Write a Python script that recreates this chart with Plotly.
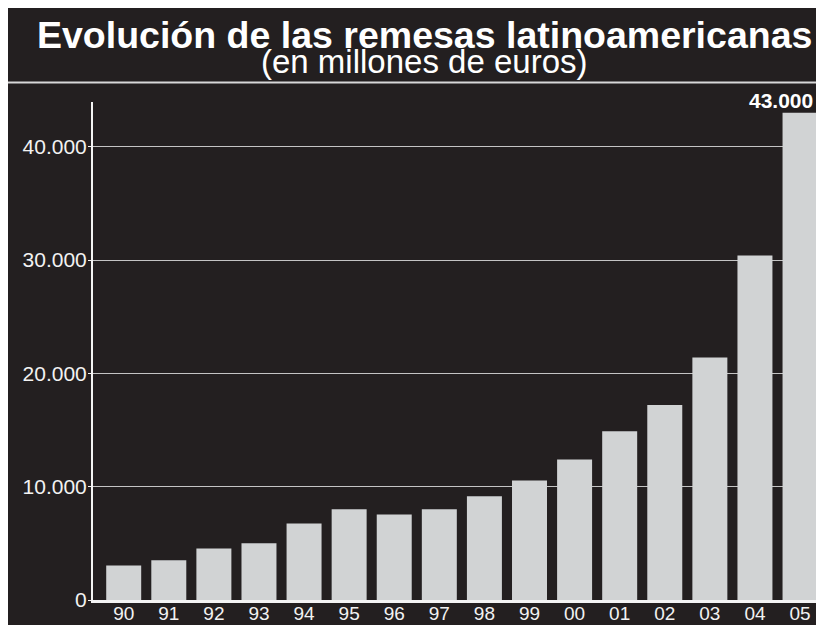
import plotly.graph_objects as go

# ---- data ----
years = ["90", "91", "92", "93", "94", "95", "96", "97", "98", "99", "00", "01", "02", "03", "04", "05"]
remesas = [3050, 3500, 4550, 5000, 6750, 8000, 7550, 8000, 9150, 10550, 12400, 14900, 17200, 21400, 30400, 43000]
y_tick_vals = [0, 10000, 20000, 30000, 40000]
y_tick_text = ["0", "10.000", "20.000", "30.000", "40.000"]
title_text = "Evolución de las remesas latinoamericanas"
subtitle_text = "(en millones de euros)"
highlight_label = "43.000"

# ---- geometry (pixels, figure coords; the page adds an 8px body margin) ----
W, H = 808, 617
ML, MR, MT, MB = 85, 0, 94, 25
PW, PH = W - ML - MR, H - MT - MB

def px_x(p):
    return (p - ML) / PW

def px_y(p):
    return (H - MB - p) / PH

DARK = "#231f20"
BAR = "#d1d3d4"
TXT = "#f2f2f2"

fig = go.Figure()
fig.add_trace(go.Bar(
    x=years, y=remesas,
    marker=dict(color=BAR, line=dict(width=0)),
    hoverinfo="x+y",
))

fig.update_layout(
    width=W, height=H,
    autosize=False,
    margin=dict(l=ML, r=MR, t=MT, b=MB, pad=0, autoexpand=False),
    paper_bgcolor=DARK,
    plot_bgcolor=DARK,
    bargap=0.224,
    showlegend=False,
    font=dict(family="Liberation Sans, Arial, sans-serif", color=TXT),
    xaxis=dict(
        type="category",
        range=[-0.681, 15.354],
        automargin=False,
        showgrid=False,
        showline=True, linecolor="#f4f4f4", linewidth=3,
        ticks="", tickfont=dict(size=19, color=TXT),
        ticklabelstandoff=-6,
        fixedrange=True,
    ),
    yaxis=dict(
        range=[0, 43950],
        automargin=False,
        tickvals=y_tick_vals, ticktext=y_tick_text,
        showgrid=True, gridcolor="#c4c4c4", gridwidth=1,
        zeroline=False,
        showline=True, linecolor="#f4f4f4", linewidth=2,
        ticks="outside", ticklen=3, tickcolor="#f4f4f4", tickwidth=1,
        tickfont=dict(size=21, color=TXT),
        ticklabelstandoff=-3,
        fixedrange=True,
    ),
    shapes=[
        dict(type="line", xref="paper", yref="paper",
             x0=px_x(-2), x1=px_x(W + 2), y0=px_y(74.5), y1=px_y(74.5),
             line=dict(color="#d8d8d8", width=2)),
    ],
    annotations=[
        dict(text="<b>" + title_text + "</b>", xref="paper", yref="paper",
             x=px_x(416.5), y=px_y(26.5), xanchor="center", yanchor="middle",
             showarrow=False, font=dict(size=37.5, color="#ffffff")),
        dict(text=subtitle_text, xref="paper", yref="paper",
             x=px_x(416), y=px_y(53), xanchor="center", yanchor="middle",
             showarrow=False, font=dict(size=33, color="#ffffff")),
        dict(text="<b>" + highlight_label + "</b>", xref="x", yref="y",
             x=len(years) - 1, y=remesas[-1], xanchor="right", yanchor="bottom",
             xshift=15, yshift=-1,
             showarrow=False, font=dict(size=21, color="#ffffff")),
    ],
)

fig.write_html("out.html")
